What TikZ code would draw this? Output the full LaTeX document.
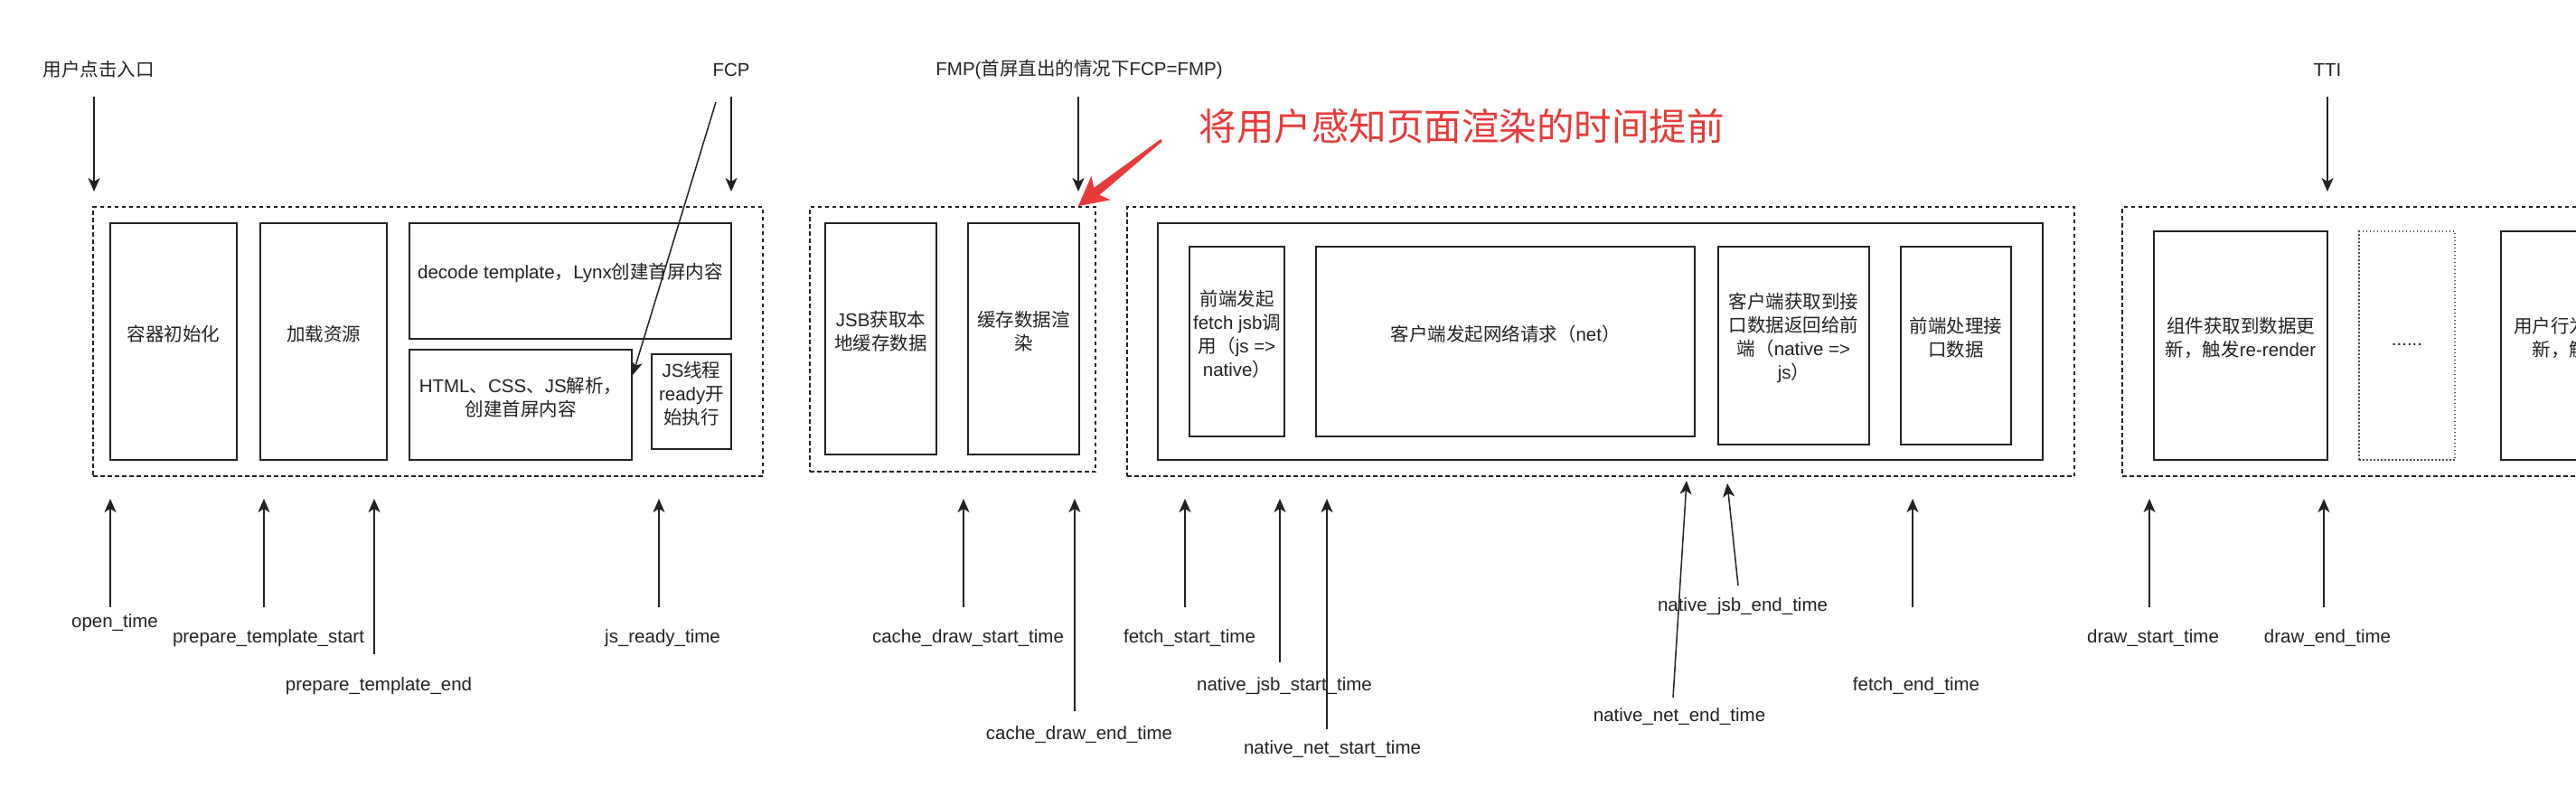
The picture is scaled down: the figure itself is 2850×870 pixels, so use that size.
\documentclass[tikz,border=0pt]{standalone}
\usepackage{fontspec}
\setmainfont{Liberation Sans}
\newfontfamily\cjkfont{Noto Sans CJK SC}
\newcommand{\zh}[1]{{\cjkfont #1}}
\usetikzlibrary{arrows.meta,fit}
\definecolor{redmark}{RGB}{233,58,58}
\definecolor{ink}{RGB}{34,34,34}
\begin{document}
\begin{tikzpicture}[x=1pt,y=-1pt,
  every node/.style={font=\fontsize{20.5}{26}\selectfont, text=ink},
  box/.style={draw=ink, line width=2pt, inner sep=0pt, align=center},
  group/.style={draw=ink, line width=1.8pt, dash pattern=on 4.5pt off 3.5pt, inner sep=0pt},
  dotbox/.style={draw=ink!80, line width=1.4pt, dash pattern=on 1.5pt off 2.5pt, inner sep=0pt, align=center},
  conn/.style={-{Stealth[length=15pt,width=13pt,inset=4pt]}, line width=1.5pt, draw=ink},
  lbl/.style={inner sep=0pt},
  emph/.style={text=redmark, font=\cjkfont\fontsize{41.5}{48}\selectfont, inner sep=0pt}]

\useasboundingbox (0,0) rectangle (2850,870);
\fill[white] (0,0) rectangle (2850,870);
\clip (0,0) rectangle (2850,870);

% ---------- group frames ----------
\node[group, fit={(103,229) (844,527)}] (g1) {};
\node[group, fit={(896,229) (1212,522)}] (g2) {};
\node[group, fit={(1247,229) (2295,527)}] (g3) {};
\node[group, fit={(2348,229) (2950,527)}] (g4) {};

% ---------- group 1 ----------
\node[box, fit={(122,247) (262,509)}] (init) {\zh{容器初始化}};
\node[box, fit={(288,247) (428,509)}] (load) {\zh{加载资源}};
\node[box, fit={(453,247) (809,375)}] (decode) {decode template\zh{，}Lynx\zh{创建首屏内容}};
\node[box, fit={(453,387) (699,509)}] (parse) {HTML\zh{、}CSS\zh{、}JS\zh{解析，}\\\zh{创建首屏内容}};
\node[box, fit={(721,392) (809,497)}] (jsthread) {JS\zh{线程}\\ready\zh{开}\\\zh{始执行}};

% ---------- group 2 ----------
\node[box, fit={(913,247) (1036,503)}] (jsb) {JSB\zh{获取本}\\\zh{地缓存数据}};
\node[box, fit={(1071,247) (1194,503)}] (cache) {\zh{缓存数据渲}\\\zh{染}};

% ---------- group 3 ----------
\node[box, fit={(1281,247) (2260,509)}] (netouter) {};
\node[box, fit={(1316,273) (1421,483)}] (fetchjsb) {\zh{前端发起}\\fetch jsb\zh{调}\\\zh{用（}js =>\\native\zh{）}};
\node[box, fit={(1456,273) (1875,483)}] (net) {\zh{客户端发起网络请求（}net\zh{）}};
\node[box, fit={(1901,273) (2068,492)}] (back) {\zh{客户端获取到接}\\\zh{口数据返回给前}\\\zh{端（}native =>\\js\zh{）}};
\node[box, fit={(2103,273) (2225,492)}] (handle) {\zh{前端处理接}\\\zh{口数据}};

% ---------- group 4 ----------
\node[box, fit={(2383,256) (2575,509)}] (comp) {\zh{组件获取到数据更}\\\zh{新，触发}re-render};
\node[dotbox, fit={(2610,256) (2716,509)}] (more) {......};
\node[box, fit={(2767,256) (2959,509)}] (user) {\zh{用户行为触发数据}\\\zh{新，触发更新}};

% ---------- top labels ----------
\node[lbl] (uclick) at (109,77) {\zh{用户点击入口}};
\node[lbl] (fcp) at (809,77) {FCP};
\node[lbl] (fmp) at (1194,77) {FMP(\zh{首屏直出的情况下}FCP=FMP)};
\node[lbl] (tti) at (2575,77) {TTI};
\node[emph] (note) at (1617,140) {将用户感知页面渲染的时间提前};

\coordinate (uclickA) at (104,107);  \coordinate (uclickB) at (104,212);
\coordinate (fcpA) at (809,107);     \coordinate (fcpB) at (809,212);
\coordinate (fcpC) at (792,113);     \coordinate (fcpD) at (700,415);
\coordinate (fmpA) at (1193,107);    \coordinate (fmpB) at (1193,212);
\coordinate (ttiA) at (2575,107);    \coordinate (ttiB) at (2575,212);

\draw[conn] (uclickA) -- (uclickB);
\draw[conn] (fcpA) -- (fcpB);
\draw[conn] (fcpC) -- (fcpD);
\draw[conn] (fmpA) -- (fmpB);
\draw[conn] (ttiA) -- (ttiB);

% red pointer
\fill[redmark, line join=round] (1284.1,154) -- (1210.3,207.9) -- (1207.4,194.7) -- (1193,228)
  -- (1228.6,221.3) -- (1216.5,215.7) -- (1285.9,156.4) -- cycle;

% ---------- bottom labels ----------
\node[lbl] (t1)  at (127,689)  {open\_time};
\node[lbl] (t2)  at (297,706)  {prepare\_template\_start};
\node[lbl] (t3)  at (419,759)  {prepare\_template\_end};
\node[lbl] (t4)  at (733,706)  {js\_ready\_time};
\node[lbl] (t5)  at (1071,706) {cache\_draw\_start\_time};
\node[lbl] (t6)  at (1194,813) {cache\_draw\_end\_time};
\node[lbl] (t7)  at (1316,706) {fetch\_start\_time};
\node[lbl] (t8)  at (1421,759) {native\_jsb\_start\_time};
\node[lbl] (t9)  at (1474,829) {native\_net\_start\_time};
\node[lbl] (t10) at (1858,793) {native\_net\_end\_time};
\node[lbl] (t11) at (1928,671) {native\_jsb\_end\_time};
\node[lbl] (t12) at (2120,759) {fetch\_end\_time};
\node[lbl] (t13) at (2382,706) {draw\_start\_time};
\node[lbl] (t14) at (2575,706) {draw\_end\_time};

\coordinate (a1)  at (122,672);  \coordinate (b1)  at (122,552);
\coordinate (a2)  at (292,672);  \coordinate (b2)  at (292,552);
\coordinate (a3)  at (414,724);  \coordinate (b3)  at (414,552);
\coordinate (a4)  at (729,672);  \coordinate (b4)  at (729,552);
\coordinate (a5)  at (1066,672); \coordinate (b5)  at (1066,552);
\coordinate (a6)  at (1189,787); \coordinate (b6)  at (1189,552);
\coordinate (a7)  at (1311,672); \coordinate (b7)  at (1311,552);
\coordinate (a8)  at (1416,733); \coordinate (b8)  at (1416,552);
\coordinate (a9)  at (1468,807); \coordinate (b9)  at (1468,552);
\coordinate (a10) at (1851,772); \coordinate (b10) at (1866,532);
\coordinate (a11) at (1923,648); \coordinate (b11) at (1911,535);
\coordinate (a12) at (2116,672); \coordinate (b12) at (2116,552);
\coordinate (a13) at (2378,672); \coordinate (b13) at (2378,552);
\coordinate (a14) at (2571,672); \coordinate (b14) at (2571,552);

\foreach \i in {1,...,14} { \draw[conn] (a\i) -- (b\i); }

\end{tikzpicture}
\end{document}
